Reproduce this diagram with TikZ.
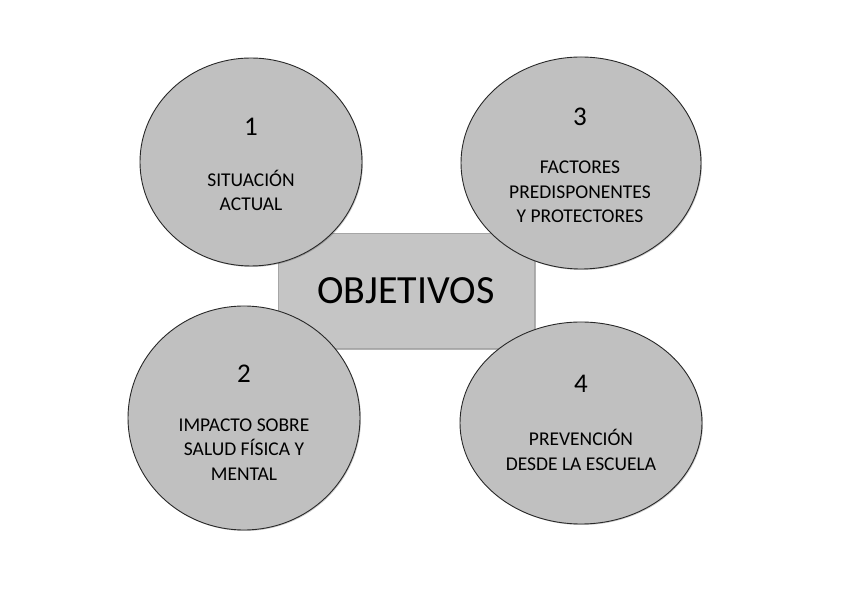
\documentclass[tikz,border=0pt]{standalone}
\usepackage{fontspec}
\setmainfont{Carlito}
\usetikzlibrary{shapes.geometric,shadows}
\definecolor{boxgray}{RGB}{197,197,197}
\definecolor{circgray}{RGB}{192,192,192}
\definecolor{edgegray}{RGB}{40,40,40}
\begin{document}
\begin{tikzpicture}[x=1pt,y=1pt,
  bubble/.style={ellipse, draw=edgegray, line width=0.9pt, fill=circgray, inner sep=0pt,
    drop shadow={shadow xshift=1pt, shadow yshift=-1pt, opacity=0.2, fill=black}},
  mainbox/.style={rectangle, draw=gray!70, line width=0.6pt, fill=boxgray, inner sep=0pt,
    minimum width=256pt, minimum height=115pt,
    drop shadow={shadow xshift=2pt, shadow yshift=-2pt, opacity=0.3, fill=black}},
  numtxt/.style={font=\fontsize{27}{32}\selectfont, inner sep=0pt},
  bodytxt/.style={font=\fontsize{19.5}{24.5}\selectfont, align=center, inner sep=0pt}]
\useasboundingbox[fill=white] (0,0) rectangle (848,599);
\node[mainbox] (obj) at (406,308.5) {\fontsize{40}{46}\selectfont OBJETIVOS};
\node[bubble, minimum width=222pt, minimum height=208pt] (c1) at (251,437) {};
\node[bubble, minimum width=240pt, minimum height=212pt] (c3) at (581,436) {};
\node[bubble, minimum width=232pt, minimum height=224pt] (c2) at (244,181) {};
\node[bubble, minimum width=242pt, minimum height=202pt] (c4) at (581,176) {};
\node[numtxt] (n1) at (251,472) {1};
\node[bodytxt] (t1) at (251,408.5) {SITUACIÓN\\ACTUAL};
\node[numtxt] (n3) at (580,482) {3};
\node[bodytxt] (t3) at (580,407) {FACTORES\\PREDISPONENTES\\Y PROTECTORES};
\node[numtxt] (n2) at (244,225) {2};
\node[bodytxt] (t2) at (244,149.5) {IMPACTO SOBRE\\SALUD FÍSICA Y\\MENTAL};
\node[numtxt] (n4) at (581,215) {4};
\node[bodytxt] (t4) at (581,149) {PREVENCIÓN\\DESDE LA ESCUELA};
\end{tikzpicture}
\end{document}
